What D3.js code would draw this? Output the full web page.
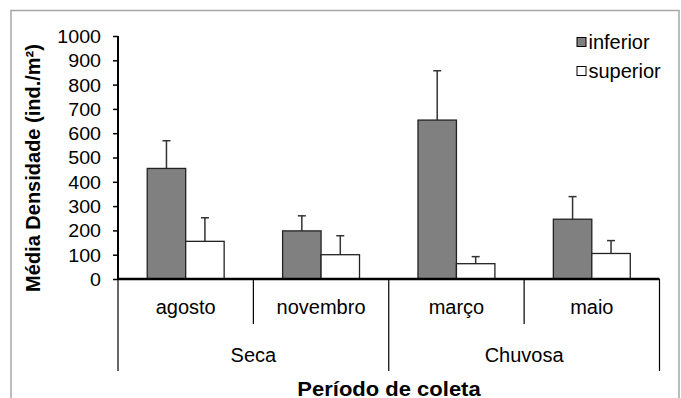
<!DOCTYPE html>
<html>
<head>
<meta charset="utf-8">
<script src="https://cdn.jsdelivr.net/npm/d3@7"></script>
<style>
  body { margin: 0; background: #fff; }
  text { font-family: "Liberation Sans", Arial, sans-serif; fill: #000; }
</style>
</head>
<body>
<div id="chart"></div>
<script>
// data
var months = ["agosto", "novembro", "março", "maio"];
var seasons = ["Seca", "Seca", "Chuvosa", "Chuvosa"];
var seriesNames = ["inferior", "superior"];
var inferior = [455, 198, 654, 246];
var inferiorErr = [114, 62, 203, 93];
var superior = [155, 100, 63, 105];
var superiorErr = [97, 78, 29, 53];
var yTicks = [0, 100, 200, 300, 400, 500, 600, 700, 800, 900, 1000];

var colors = { inferior: "#808080", superior: "#ffffff" };

var svgWidth = 681, svgHeight = 398;
var margin = { top: 36, right: 22, bottom: 119, left: 118 };
var width = 659.5 - margin.left;
var height = 279 - margin.top;

// widen text a bit to match the stretched look of the original
function stretch(sel, f) {
    sel.each(function() {
        var len = this.getComputedTextLength();
        d3.select(this)
            .attr("textLength", len * f)
            .attr("lengthAdjust", "spacingAndGlyphs");
    });
}

var svg = d3.select("#chart").append("svg")
    .attr("width", svgWidth)
    .attr("height", svgHeight);

// outer frame
svg.append("rect")
    .attr("x", 11).attr("y", 10.5)
    .attr("width", 668).attr("height", 400)
    .attr("fill", "none")
    .attr("stroke", "#a6a6a6")
    .attr("stroke-width", 1.5);

var chartGroup = svg.append("g")
    .attr("transform", `translate(${margin.left}, ${margin.top})`);

var x0 = d3.scaleBand().domain(months).range([0, width]).padding(0);
var x1 = d3.scaleBand().domain(seriesNames).range([0, x0.bandwidth()])
    .paddingInner(0).paddingOuter(0.76);
var y = d3.scaleLinear().domain([0, 1000]).range([height, 0]);

var rows = months.map(function(m, i) {
    return {
        month: m,
        values: [
            { key: "inferior", v: inferior[i], e: inferiorErr[i] },
            { key: "superior", v: superior[i], e: superiorErr[i] }
        ]
    };
});

var groups = chartGroup.selectAll(".grp")
    .data(rows)
    .enter().append("g")
    .attr("transform", d => `translate(${x0(d.month)},0)`);

// error bars
groups.selectAll(".err")
    .data(d => d.values)
    .enter().append("g")
    .each(function(d) {
        var cx = x1(d.key) + x1.bandwidth() / 2;
        var g = d3.select(this);
        g.append("line")
            .attr("x1", cx).attr("x2", cx)
            .attr("y1", y(d.v)).attr("y2", y(d.v + d.e))
            .attr("stroke", "#333").attr("stroke-width", 1.5);
        g.append("line")
            .attr("x1", cx - 4).attr("x2", cx + 4)
            .attr("y1", y(d.v + d.e)).attr("y2", y(d.v + d.e))
            .attr("stroke", "#333").attr("stroke-width", 1.5);
    });

groups.selectAll("rect")
    .data(d => d.values)
    .enter().append("rect")
    .attr("x", d => x1(d.key))
    .attr("y", d => y(d.v))
    .attr("width", x1.bandwidth())
    .attr("height", d => height - y(d.v))
    .attr("fill", d => colors[d.key])
    .attr("stroke", "#222")
    .attr("stroke-width", 1.3);

// y axis
var leftAxis = d3.axisLeft(y).tickValues(yTicks).tickFormat(d3.format("d"))
    .tickSize(5).tickPadding(12);
var yAxisG = chartGroup.append("g").call(leftAxis);
yAxisG.select(".domain").attr("stroke-width", 2).attr("d", `M0,0V${height}`);
yAxisG.selectAll(".tick line").attr("stroke-width", 1.5);
yAxisG.selectAll("text")
    .attr("dy", "0.36em")
    .style("font-size", "18px");
stretch(yAxisG.selectAll("text"), 1.09);

// x axis line
chartGroup.append("line")
    .attr("x1", 0).attr("x2", width)
    .attr("y1", height).attr("y2", height)
    .attr("stroke", "#000").attr("stroke-width", 2.5);

// month dividers and labels
var monthEdges = months.map(m => x0(m)).concat([width]);
monthEdges.forEach(function(xv, i) {
    var isSeason = i === 0 || i === months.length || seasons[i] !== seasons[i - 1];
    chartGroup.append("line")
        .attr("x1", xv).attr("x2", xv)
        .attr("y1", height).attr("y2", height + (isSeason ? 92 : 45))
        .attr("stroke", "#000").attr("stroke-width", 1.2);
});

chartGroup.selectAll(".mlabel")
    .data(months)
    .enter().append("text")
    .attr("x", d => x0(d) + x0.bandwidth() / 2)
    .attr("y", 314 - margin.top)
    .attr("text-anchor", "middle")
    .style("font-size", "20px")
    .text(d => d);

// season labels
var seasonNames = Array.from(new Set(seasons));
seasonNames.forEach(function(s) {
    var idx = months.filter((m, i) => seasons[i] === s);
    var xs = x0(idx[0]);
    var xe = x0(idx[idx.length - 1]) + x0.bandwidth();
    chartGroup.append("text")
        .attr("x", (xs + xe) / 2)
        .attr("y", 362 - margin.top)
        .attr("text-anchor", "middle")
        .style("font-size", "20px")
        .text(s);
});

// axis titles
chartGroup.append("text")
    .attr("transform", "rotate(-90)")
    .attr("x", -(168 - margin.top))
    .attr("y", 40 - margin.left)
    .attr("text-anchor", "middle")
    .style("font-size", "20px")
    .style("font-weight", "bold")
    .text("Média Densidade (ind./m²)");

var xTitle = chartGroup.append("text")
    .attr("x", 389 - margin.left)
    .attr("y", 395.5 - margin.top)
    .attr("text-anchor", "middle")
    .style("font-size", "20px")
    .style("font-weight", "bold")
    .text("Período de coleta");
stretch(xTitle, 1.1);

// legend
var legend = svg.append("g").attr("transform", "translate(577, 42)");
seriesNames.forEach(function(s, i) {
    var g = legend.append("g").attr("transform", `translate(0, ${i * 29})`);
    g.append("rect")
        .attr("x", 0).attr("y", -4.5)
        .attr("width", 9).attr("height", 9)
        .attr("fill", colors[s])
        .attr("stroke", "#000").attr("stroke-width", 1);
    g.append("text")
        .attr("x", 11.5).attr("y", 6.5)
        .style("font-size", "20px")
        .text(s);
});
</script>
</body>
</html>
